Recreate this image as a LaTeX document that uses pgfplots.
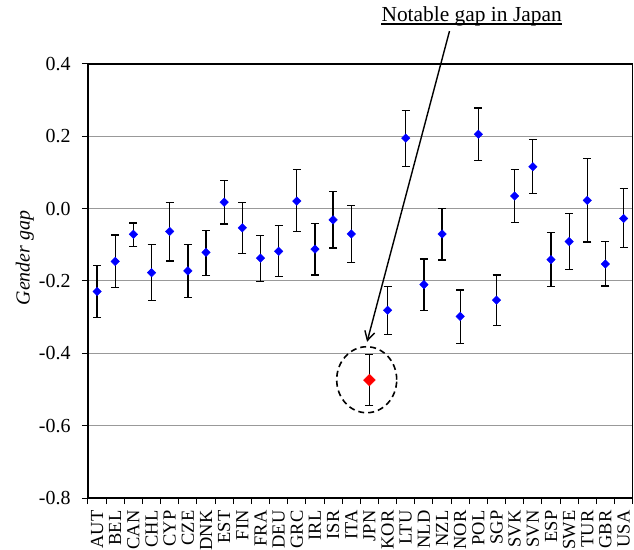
\documentclass[border=0pt]{standalone}
\usepackage{pgfplots}
\pgfplotsset{compat=1.18}
\usepackage{pgfplotstable}
\usepackage{fontspec}
\setmainfont{Liberation Serif}
\usetikzlibrary{arrows.meta}

% x y err+ err-
\pgfplotstableread{
x  y      ep     em
0  -0.229 0.071 0.072
1  -0.146 0.073 0.072
2  -0.071 0.031 0.034
3  -0.177 0.077 0.077
4  -0.063 0.081 0.082
5  -0.172 0.073 0.074
6  -0.121 0.060 0.063
7   0.018 0.060 0.060
8  -0.053 0.071 0.070
9  -0.137 0.062 0.064
10 -0.118 0.071 0.069
11  0.021 0.087 0.085
12 -0.112 0.071 0.071
13 -0.031 0.078 0.078
14 -0.070 0.079 0.079
16 -0.281 0.065 0.066
17  0.195 0.076 0.079
18 -0.210 0.071 0.072
19 -0.070 0.070 0.072
20 -0.298 0.073 0.074
21  0.206 0.072 0.072
22 -0.253 0.070 0.070
23  0.035 0.074 0.074
24  0.116 0.075 0.075
25 -0.141 0.075 0.075
26 -0.091 0.077 0.078
27  0.023 0.116 0.115
28 -0.153 0.062 0.061
29 -0.027 0.082 0.081
}\others

\pgfplotstableread{
x  y      ep    em
15 -0.474 0.070 0.071
}\japan

\begin{document}
\begin{tikzpicture}
\useasboundingbox (-88bp,-52bp) rectangle (546bp,498bp);
\begin{axis}[
    at={(0,0)}, anchor=south west,
    scale only axis, width=544.7bp, height=434bp,
    xmin=-0.5, xmax=29.5, ymin=-0.8, ymax=0.4,
    xtick={0,...,29},
    xticklabels={AUT,BEL,CAN,CHL,CYP,CZE,DNK,EST,FIN,FRA,DEU,GRC,IRL,ISR,ITA,JPN,KOR,LTU,NLD,NZL,NOR,POL,SGP,SVK,SVN,ESP,SWE,TUR,GBR,USA},
    minor xtick={-0.5,0.5,...,29.5},
    major x tick style={draw=none},
    ytick={-0.8,-0.6,-0.4,-0.2,0,0.2,0.4},
    yticklabels={-0.8,-0.6,-0.4,-0.2,0.0,0.2,0.4},
    ymajorgrids,
    grid style={black!40, line width=1bp},
    tick align=outside, tick pos=left,
    major tick length=6bp, minor tick length=6bp,
    tick style={black, line width=1bp},
    xticklabel style={rotate=90, anchor=east, xshift=-3bp, font=\fontsize{18.5}{18.5}\selectfont},
    yticklabel style={xshift=-8bp, font=\fontsize{20}{20}\selectfont},
    axis line style={line width=1.2bp},
    ylabel={\textit{Gender gap}},
    ylabel style={at={(rel axis cs:-0.116,0.553)}, anchor=center, font=\fontsize{20}{20}\selectfont},
    clip=false,
]
\addplot[only marks, mark=square*, mark size=3bp,
    mark options={rotate=45, fill=blue, draw=blue},
    error bars/.cd, y dir=both, y explicit,
    error mark=|,
    error bar style={black, line width=1.3bp},
    error mark options={black, line width=1.3bp, mark size=4bp}]
    table[x=x, y=y, y error plus=ep, y error minus=em] {\others};
\addplot[only marks, mark=square*, mark size=4.2bp,
    mark options={rotate=45, fill=red, draw=red},
    error bars/.cd, y dir=both, y explicit,
    error mark=|,
    error bar style={black, line width=1.3bp},
    error mark options={black, line width=1.3bp, mark size=4bp}]
    table[x=x, y=y, y error plus=ep, y error minus=em] {\japan};

\draw[line width=2.2bp] (rel axis cs:0,1) -- (rel axis cs:0,0) -- (rel axis cs:1,0);

% annotation
\draw[dashed, dash pattern=on 6bp off 4bp, line width=1.6bp]
    (axis cs:14.85,-0.473) ellipse [x radius=30bp, y radius=33bp];
\draw[line width=1.4bp, -{Straight Barb[length=9bp, width=10bp]}]
    (axis cs:19.41,0.491) -- (axis cs:14.87,-0.368);
\node[inner sep=0pt, anchor=base, font=\fontsize{21.5}{21.5}\selectfont] (note)
    at (axis cs:20.63,0.5176) {Notable gap in Japan};
\draw[line width=1.2bp] ([yshift=-2.5bp]note.base west) -- ([yshift=-2.5bp]note.base east);
\end{axis}
\end{tikzpicture}
\end{document}
